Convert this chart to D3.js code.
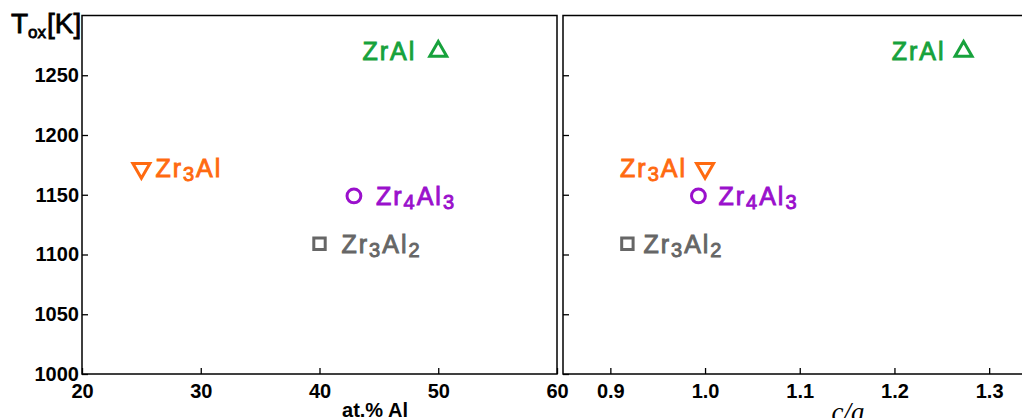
<!DOCTYPE html>
<html>
<head>
<meta charset="utf-8">
<script src="https://cdn.jsdelivr.net/npm/d3@7"></script>
<style>
  body { margin: 0; background: #fff; }
  svg { display: block; font-family: "Liberation Sans", Arial, sans-serif; }
</style>
</head>
<body>
<div id="chart"></div>
<script>
// phases and their values
const phases = ["ZrAl", "Zr_3Al", "Zr_4Al_3", "Zr_3Al_2"];
const atPctAl = [50, 25, 42.9, 40];
const cOverA = [1.273, 1.0, 0.993, 0.918];
const tOx = [1270, 1172, 1149, 1109];

const yTicks = [1000, 1050, 1100, 1150, 1200, 1250];
const xTicksLeft = [20, 30, 40, 50, 60];
const xTicksRight = [0.9, 1.0, 1.1, 1.2, 1.3];

// marker style per phase
const phaseStyle = {
  "ZrAl":     { color: "#17a23c", shape: "up" },
  "Zr_3Al":   { color: "#ff6a10", shape: "down" },
  "Zr_4Al_3": { color: "#9a10cc", shape: "circle" },
  "Zr_3Al_2": { color: "#666666", shape: "square" }
};

const width = 1022, height = 418;
const plotTop = 15.5, plotBottom = 374;

const svg = d3.select("#chart").append("svg")
  .attr("width", width)
  .attr("height", height);

const y = d3.scaleLinear().domain([1000, 1300]).range([plotBottom, plotTop]);

// label side per panel ("l" = text left of the marker)
const panels = [
  { x0: 82, x1: 557, domain: [20, 60], values: atPctAl, ticks: xTicksLeft, fmt: d3.format("d"),
    yLabels: true, sides: ["l", "r", "r", "r"], gap: [22, 14, 22, 22] },
  { x0: 563, x1: 1036.5, domain: [0.85, 1.35], values: cOverA, ticks: xTicksRight, fmt: d3.format(".1f"),
    yLabels: false, sides: ["l", "l", "r", "r"], gap: [18, 18, 20, 16] }
];

function addLabel(g, str, fontSize) {
  // "Zr_3Al_2" -> tspans with subscripts
  const parts = str.split(/(_\d)/).filter(s => s.length);
  let down = false;
  parts.forEach(p => {
    if (p[0] === "_") {
      g.append("tspan").attr("font-size", fontSize * 0.8).attr("dy", 4).text(p.slice(1));
      down = true;
    } else {
      g.append("tspan").attr("dy", down ? -4 : 0).text(p);
      down = false;
    }
  });
}

function symbolPath(shape) {
  if (shape === "circle") return d3.symbol(d3.symbolCircle, 150)();
  if (shape === "square") return d3.symbol(d3.symbolSquare, 130)();
  return d3.symbol(d3.symbolTriangle, 125)();
}

panels.forEach(p => {
  const x = d3.scaleLinear().domain(p.domain).range([p.x0, p.x1]);
  const g = svg.append("g");

  // frame
  g.append("rect")
    .attr("x", p.x0).attr("y", plotTop)
    .attr("width", p.x1 - p.x0).attr("height", plotBottom - plotTop)
    .attr("fill", "none").attr("stroke", "#000").attr("stroke-width", 1.5);

  const xAxis = g.append("g")
    .attr("transform", `translate(0,${plotBottom})`)
    .call(d3.axisBottom(x).tickValues(p.ticks).tickFormat(p.fmt).tickSize(-6).tickPadding(10));
  xAxis.select(".domain").remove();
  xAxis.selectAll("line").attr("stroke-width", 1.3);
  xAxis.selectAll("text").attr("font-size", 20).attr("font-weight", "bold")
    .attr("font-family", "Liberation Sans, Arial, sans-serif").attr("fill", "#000");

  const yAxis = g.append("g")
    .attr("transform", `translate(${p.x0},0)`)
    .call(d3.axisLeft(y).tickValues(yTicks).tickFormat(p.yLabels ? d3.format("d") : "").tickSize(-6).tickPadding(3));
  yAxis.select(".domain").remove();
  yAxis.selectAll("line").attr("stroke-width", 1.3);
  yAxis.selectAll("text").attr("font-size", 20).attr("font-weight", "bold")
    .attr("font-family", "Liberation Sans, Arial, sans-serif").attr("fill", "#000");

  // points
  phases.forEach((ph, i) => {
    const st = phaseStyle[ph];
    const cx = x(p.values[i]), cy = y(tOx[i]);
    g.append("path")
      .attr("d", symbolPath(st.shape))
      .attr("transform", `translate(${cx},${cy})` + (st.shape === "down" ? " rotate(180)" : ""))
      .attr("fill", "none")
      .attr("stroke", st.color)
      .attr("stroke-width", 3);

    const side = p.sides[i];
    const t = g.append("text")
      .attr("x", side === "r" ? cx + p.gap[i] : cx - p.gap[i])
      .attr("y", cy + 9)
      .attr("text-anchor", side === "r" ? "start" : "end")
      .attr("fill", st.color)
      .attr("stroke", st.color)
      .attr("stroke-width", 0.9)
      .attr("font-size", 25)
      .attr("letter-spacing", 2);
    addLabel(t, ph, 25);
  });
});

// axis titles
svg.append("text")
  .attr("x", 375).attr("y", 417)
  .attr("text-anchor", "middle")
  .attr("font-size", 20).attr("font-weight", "bold")
  .text("at.% Al");

svg.append("text")
  .attr("x", 848).attr("y", 421)
  .attr("text-anchor", "middle")
  .attr("font-family", "Liberation Serif, serif")
  .attr("font-style", "italic")
  .attr("font-size", 27)
  .text("c/a");

const yt = svg.append("text").attr("x", 11).attr("y", 33)
  .attr("fill", "#000").attr("stroke", "#000").attr("stroke-width", 0.8);
yt.append("tspan").attr("font-size", 28).text("T");
yt.append("tspan").attr("font-size", 17).attr("dy", 5).text("ox");
yt.append("tspan").attr("font-size", 28).attr("dy", -5).attr("dx", 1).text("[K]");
</script>
</body>
</html>
